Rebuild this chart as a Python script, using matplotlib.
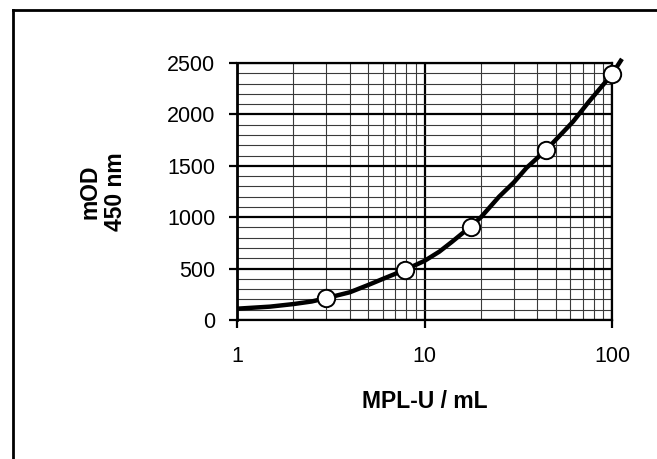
import matplotlib
matplotlib.use("Agg")
import matplotlib.pyplot as plt
from matplotlib.ticker import MultipleLocator, FixedLocator, LogLocator, NullFormatter, FixedFormatter
from matplotlib.lines import Line2D

# Data
point_x = [3.0, 7.85, 17.6, 44.5, 100]
point_y = [213, 487, 908, 1654, 2390]

curve_x = [1, 1.5, 2, 2.5, 3, 4, 5, 6, 7.85, 10, 12, 14, 17.6, 20, 25, 30, 35, 44.5, 55, 62, 75, 100, 113]
curve_y = [110, 130, 155, 180, 213, 270, 340, 400, 487, 575, 665, 760, 908, 1000, 1200, 1340, 1480, 1654, 1830, 1930, 2120, 2390, 2540]

y_ticks = [0, 500, 1000, 1500, 2000, 2500]
x_ticks = [1, 10, 100]
x_tick_labels = ["1", "10", "100"]

plt.rcParams['font.family'] = ['Liberation Sans', 'DejaVu Sans']

W, H = 657, 459
fig = plt.figure(figsize=(W / 100, H / 100), dpi=100)
left, right, top, bottom = 237, 612, 63, 320
ax = fig.add_axes([left / W, 1 - bottom / H, (right - left) / W, (bottom - top) / H])

ax.set_xscale('log')
ax.set_xlim(1, 100)
ax.set_ylim(0, 2500)

# grid
ax.yaxis.set_major_locator(FixedLocator(y_ticks))
ax.yaxis.set_minor_locator(MultipleLocator(100))
ax.xaxis.set_major_locator(FixedLocator(x_ticks))
ax.xaxis.set_major_formatter(FixedFormatter(x_tick_labels))
ax.xaxis.set_minor_locator(LogLocator(base=10, subs=range(2, 10)))
ax.xaxis.set_minor_formatter(NullFormatter())

ax.grid(which='minor', axis='both', color='#3a3a3a', linewidth=0.8)
ax.grid(which='major', axis='both', color='black', linewidth=1.6)
ax.set_axisbelow(True)

for s in ax.spines.values():
    s.set_color('black')
    s.set_linewidth(1.6)
ax.spines['left'].set_linewidth(2.0)

ax.tick_params(which='minor', length=0)
ax.tick_params(axis='y', which='major', direction='out', length=5.5, width=1.6,
               labelsize=15.5, pad=10)
ax.tick_params(axis='x', which='major', direction='out', length=6, width=1.6,
               labelsize=15.5, pad=13)

# curve and points
ax.plot(curve_x, curve_y, color='black', linewidth=3.2, clip_on=False, zorder=3,
        solid_capstyle='butt')
ax.plot(point_x, point_y, linestyle='none', marker='o', markersize=12.5,
        markerfacecolor='white', markeredgecolor='black', markeredgewidth=1.4,
        clip_on=False, zorder=4)

# labels
fig.text(425 / W, 1 - 401 / H, 'MPL-U / mL', ha='center', va='center',
         fontsize=16.5, fontweight='bold')
fig.text(103 / W, 1 - 192 / H, 'mOD\n450 nm', ha='center', va='center',
         rotation=90, fontsize=16.5, fontweight='bold', multialignment='center',
         linespacing=1.15)

# outer frame (partially cut off)
fx = 13 / W
fy = 1 - 10 / H
fig.add_artist(Line2D([fx, fx], [fy, -0.01], transform=fig.transFigure,
                      color='black', linewidth=2.0, solid_capstyle='projecting'))
fig.add_artist(Line2D([fx, 1.01], [fy, fy], transform=fig.transFigure,
                      color='black', linewidth=2.0, solid_capstyle='projecting'))

fig.savefig('out.png', dpi=100)
